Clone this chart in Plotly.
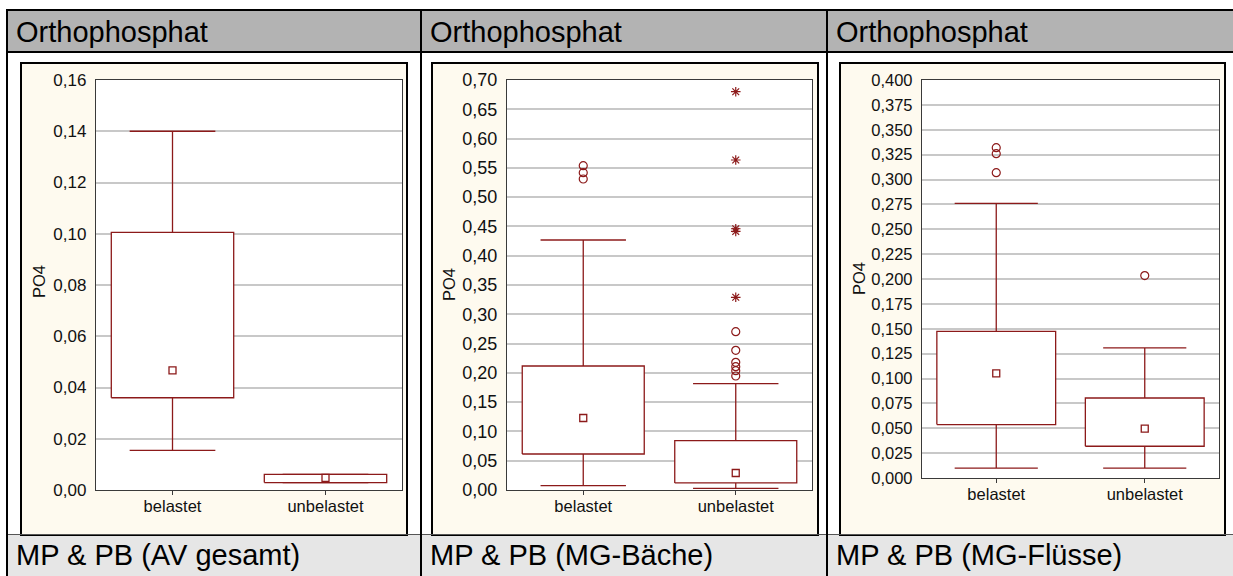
import plotly.graph_objects as go

W, H = 1233, 576

# ---- data -------------------------------------------------------------
categories = ["belastet", "unbelastet"]
header_text = "Orthophosphat"
footer_texts = ["MP & PB (AV gesamt)", "MP & PB (MG-Bäche)", "MP & PB (MG-Flüsse)"]
y_title = "PO4"

# AV gesamt
av_low = [0.0155, 0.0029]
av_q1 = [0.0360, 0.0029]
av_median = [0.0467, 0.0047]
av_q3 = [0.1005, 0.0061]
av_high = [0.1400, 0.0061]
av_outliers = [[], []]
av_extremes = [[], []]

# MG-Bäche
bach_low = [0.0074, 0.0029]
bach_q1 = [0.0615, 0.0120]
bach_median = [0.1229, 0.0290]
bach_q3 = [0.2117, 0.0842]
bach_high = [0.4268, 0.1815]
bach_outliers = [[0.5537, 0.5418, 0.5310],
                 [0.2703, 0.2385, 0.2180, 0.2105, 0.2037, 0.1946]]
bach_extremes = [[], [0.6800, 0.5634, 0.4460, 0.4415, 0.3290]]

# MG-Flüsse
fluss_low = [0.0100, 0.0100]
fluss_q1 = [0.0537, 0.0319]
fluss_median = [0.1052, 0.0497]
fluss_q3 = [0.1474, 0.0804]
fluss_high = [0.2760, 0.1307]
fluss_outliers = [[0.3320, 0.3260, 0.3069], [0.2034]]
fluss_extremes = [[], []]

# ---- styling ------------------------------------------------------------
RED = "#8c1a1a"
HEADER_GRAY = "#b3b3b3"
FOOTER_GRAY = "#e6e6e6"
CREAM = "#fefaef"
FONT = "Liberation Sans, Arial, sans-serif"
BOX_HALF = 0.40
CAP_HALF = 0.28

# panel geometry in pixels: plot area and surrounding frame
panels = [
    dict(data=(av_low, av_q1, av_median, av_q3, av_high, av_outliers, av_extremes),
         plot=(96, 402, 80, 490), frame=(21, 407, 63, 535),
         yrange=(0, 0.16), dtick=0.02, fmt=".2f", tickfont=17, title_xy=(39, 282)),
    dict(data=(bach_low, bach_q1, bach_median, bach_q3, bach_high, bach_outliers, bach_extremes),
         plot=(507, 812, 80, 490), frame=(432, 818, 63, 535),
         yrange=(0, 0.70), dtick=0.05, fmt=".2f", tickfont=18, title_xy=(449, 285)),
    dict(data=(fluss_low, fluss_q1, fluss_median, fluss_q3, fluss_high, fluss_outliers, fluss_extremes),
         plot=(922, 1219, 80, 478), frame=(840, 1225, 63, 535),
         yrange=(0, 0.40), dtick=0.025, fmt=".3f", tickfont=16.5, title_xy=(859, 279)),
]
col_text_x = [14, 428, 834]


def px(x):
    return x / W


def py(y):
    return 1 - y / H


fig = go.Figure()
shapes = []
annotations = []

# table background: header, body, footer
shapes.append(dict(type="rect", xref="paper", yref="paper", x0=px(7), x1=1.0, y0=py(52), y1=py(10),
                   fillcolor=HEADER_GRAY, line_width=0, layer="below"))
shapes.append(dict(type="rect", xref="paper", yref="paper", x0=px(7), x1=1.0, y0=0, y1=py(534),
                   fillcolor=FOOTER_GRAY, line_width=0, layer="below"))

for k, p in enumerate(panels, start=1):
    low, q1, med, q3, high, outl, extr = p["data"]
    x0, x1, y0, y1 = p["plot"]
    fx0, fx1, fy0, fy1 = p["frame"]
    xa = "x" if k == 1 else f"x{k}"
    ya = "y" if k == 1 else f"y{k}"

    # cream chart frame and white plotting area
    shapes.append(dict(type="rect", xref="paper", yref="paper", x0=px(fx0), x1=px(fx1),
                       y0=py(fy1), y1=py(fy0), fillcolor=CREAM,
                       line=dict(color="black", width=2), layer="below"))
    shapes.append(dict(type="rect", xref="paper", yref="paper", x0=px(x0), x1=px(x1),
                       y0=py(y1), y1=py(y0), fillcolor="white", line_width=0, layer="below"))

    for i in range(len(categories)):
        # whiskers with caps (non-outlier range)
        fig.add_trace(go.Scatter(
            x=[i, i, None, i, i, None, i - CAP_HALF, i + CAP_HALF, None, i - CAP_HALF, i + CAP_HALF],
            y=[q3[i], high[i], None, q1[i], low[i], None, high[i], high[i], None, low[i], low[i]],
            mode="lines", line=dict(color=RED, width=1.3),
            xaxis=xa, yaxis=ya, showlegend=False, hoverinfo="skip"))
        # quartile box
        fig.add_trace(go.Scatter(
            x=[i - BOX_HALF, i + BOX_HALF, i + BOX_HALF, i - BOX_HALF, i - BOX_HALF],
            y=[q1[i], q1[i], q3[i], q3[i], q1[i]],
            mode="lines", fill="toself", fillcolor="white", line=dict(color=RED, width=1.3),
            xaxis=xa, yaxis=ya, showlegend=False, hoverinfo="skip"))
        # median
        fig.add_trace(go.Scatter(
            x=[i], y=[med[i]], mode="markers",
            marker=dict(symbol="square-open", size=7, color=RED, line=dict(width=1.3)),
            xaxis=xa, yaxis=ya, showlegend=False))
        # outliers
        if outl[i]:
            fig.add_trace(go.Scatter(
                x=[i] * len(outl[i]), y=outl[i], mode="markers",
                marker=dict(symbol="circle-open", size=8, color=RED, line=dict(width=1.2)),
                xaxis=xa, yaxis=ya, showlegend=False))
        # extremes
        if extr[i]:
            fig.add_trace(go.Scatter(
                x=[i] * len(extr[i]), y=extr[i], mode="markers",
                marker=dict(symbol="asterisk-open", size=8, color=RED, line=dict(width=1.2)),
                xaxis=xa, yaxis=ya, showlegend=False))

    axis_common = dict(showline=True, linecolor="#3a3a3a", linewidth=1.3, mirror=True,
                       zeroline=False, automargin=False)
    fig.update_layout(**{
        ("xaxis" if k == 1 else f"xaxis{k}"): dict(
            domain=[px(x0), px(x1)], anchor=ya, range=[-0.5, 1.5],
            tickmode="array", tickvals=list(range(len(categories))), ticktext=categories,
            ticks="outside", ticklen=4, tickcolor="#3a3a3a", showgrid=False,
            ticklabelstandoff=-3,
            tickfont=dict(family=FONT, size=16.5, color="#111111"), **axis_common),
        ("yaxis" if k == 1 else f"yaxis{k}"): dict(
            domain=[py(y1), py(y0)], anchor=xa, range=list(p["yrange"]),
            tick0=0, dtick=p["dtick"], tickformat=p["fmt"], ticks="",
            ticklabelstandoff=5,
            showgrid=True, gridcolor="#c8c8c8", gridwidth=1.5,
            tickfont=dict(family=FONT, size=p["tickfont"], color="#111111"), **axis_common),
    })

    tx, ty = p["title_xy"]
    annotations.append(dict(text=y_title, xref="paper", yref="paper", x=px(tx), y=py(ty),
                            xanchor="center", yanchor="middle", textangle=-90, showarrow=False,
                            font=dict(family=FONT, size=16.5, color="#111111")))

# header and footer texts
for c in range(3):
    annotations.append(dict(text=header_text, xref="paper", yref="paper", x=px(col_text_x[c]),
                            y=py(31.5), xanchor="left", yanchor="middle", showarrow=False,
                            font=dict(family=FONT, size=29, color="black")))
    annotations.append(dict(text=footer_texts[c], xref="paper", yref="paper", x=px(col_text_x[c]),
                            y=py(555), xanchor="left", yanchor="middle", showarrow=False,
                            font=dict(family=FONT, size=29, color="black")))

# table rules
def hline(y, x0, x1, width=2, color="black"):
    shapes.append(dict(type="line", xref="paper", yref="paper", x0=px(x0), x1=px(x1),
                       y0=py(y), y1=py(y), line=dict(color=color, width=width), layer="above"))


def vline(x, y0, y1, width=2, color="black"):
    shapes.append(dict(type="line", xref="paper", yref="paper", x0=px(x), x1=px(x),
                       y0=py(y0), y1=py(y1), line=dict(color=color, width=width), layer="above"))


hline(10, 6, W)
hline(52, 6, W)
hline(534.5, 7, W, width=1, color="#555555")
vline(7, 9, H)
vline(421, 9, H)
vline(827, 9, H)

fig.update_layout(
    width=W, height=H, autosize=False,
    margin=dict(l=0, r=0, t=0, b=0, pad=0, autoexpand=False),
    paper_bgcolor="white", plot_bgcolor="white",
    separators=",.",
    shapes=shapes, annotations=annotations,
    showlegend=False,
)

fig.write_html("out.html")
